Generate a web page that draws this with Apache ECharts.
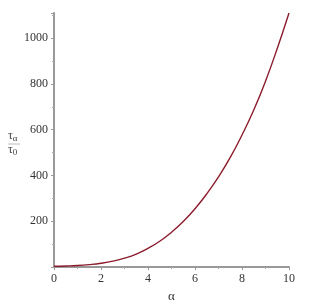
<!DOCTYPE html>
<html><head><meta charset="utf-8">
<script src="https://cdn.jsdelivr.net/npm/echarts@6/dist/echarts.min.js"></script>
<style>html,body{margin:0;padding:0;background:#fff}#c{width:316px;height:308px}</style>
</head><body><div id="c"></div>
<script>
const alphaValues = [0,0.5,1,1.5,2,2.5,3,3.5,4,4.5,5,5.5,6,6.5,7,7.5,8,8.5,9,9.5,10];
const ratioValues = [4,5,7,11,17,26,39,57,82,113,152,199,255,320,394,479,577,686,812,955,1110];
const xTicks = [0,2,4,6,8,10];
const yTicks = [200,400,600,800,1000];

const chart = echarts.init(document.getElementById('c'));
const font = '"Liberation Serif", serif';
chart.setOption({
  animation: false,
  grid: {left: 54, right: 27, top: 13, bottom: 34, containLabel: false},
  xAxis: {
    type: 'value', min: 0, max: 10, interval: 2,
    name: 'α', nameLocation: 'middle', nameGap: 22,
    nameTextStyle: {fontFamily: font, fontSize: 13, color: '#333'},
    axisLine: {lineStyle: {color: '#999', width: 2}},
    axisTick: {show: true, length: 3, lineStyle: {color: '#999'}},
    minorTick: {show: true, splitNumber: 2, length: 2, lineStyle: {color: '#aaa'}},
    splitLine: {show: false},
    axisLabel: {fontFamily: font, fontSize: 12, color: '#333', margin: 6,
      formatter: v => xTicks.includes(v) ? String(v) : ''}
  },
  yAxis: {
    type: 'value', min: 0, max: 1110, interval: 200,
    axisLine: {show: true, lineStyle: {color: '#999', width: 2}},
    axisTick: {show: true, length: 3, lineStyle: {color: '#999'}},
    minorTick: {show: true, splitNumber: 2, length: 2, lineStyle: {color: '#aaa'}},
    splitLine: {show: false},
    axisLabel: {fontFamily: font, fontSize: 12, color: '#333', margin: 6,
      formatter: v => yTicks.includes(v) ? String(v) : ''}
  },
  graphic: [
    {type: 'text', left: 8, top: 130, style: {
      text: '{t|τ}{s|α}', rich: {t: {fontFamily: font, fontSize: 12, fill: '#444'},
      s: {fontFamily: font, fontSize: 9, fill: '#444', padding: [5,0,0,0]}}}},
    {type: 'line', shape: {x1: 8, y1: 144, x2: 20, y2: 144}, style: {stroke: '#bbb', lineWidth: 1}},
    {type: 'text', left: 8, top: 144, style: {
      text: '{t|τ}{s|0}', rich: {t: {fontFamily: font, fontSize: 12, fill: '#444'},
      s: {fontFamily: font, fontSize: 9, fill: '#444', padding: [5,0,0,0]}}}}
  ],
  series: [{
    type: 'line', smooth: true, showSymbol: false,
    data: alphaValues.map((a, i) => [a, ratioValues[i]]),
    lineStyle: {color: '#8c1c2c', width: 1.4}
  }]
});
</script></body></html>
